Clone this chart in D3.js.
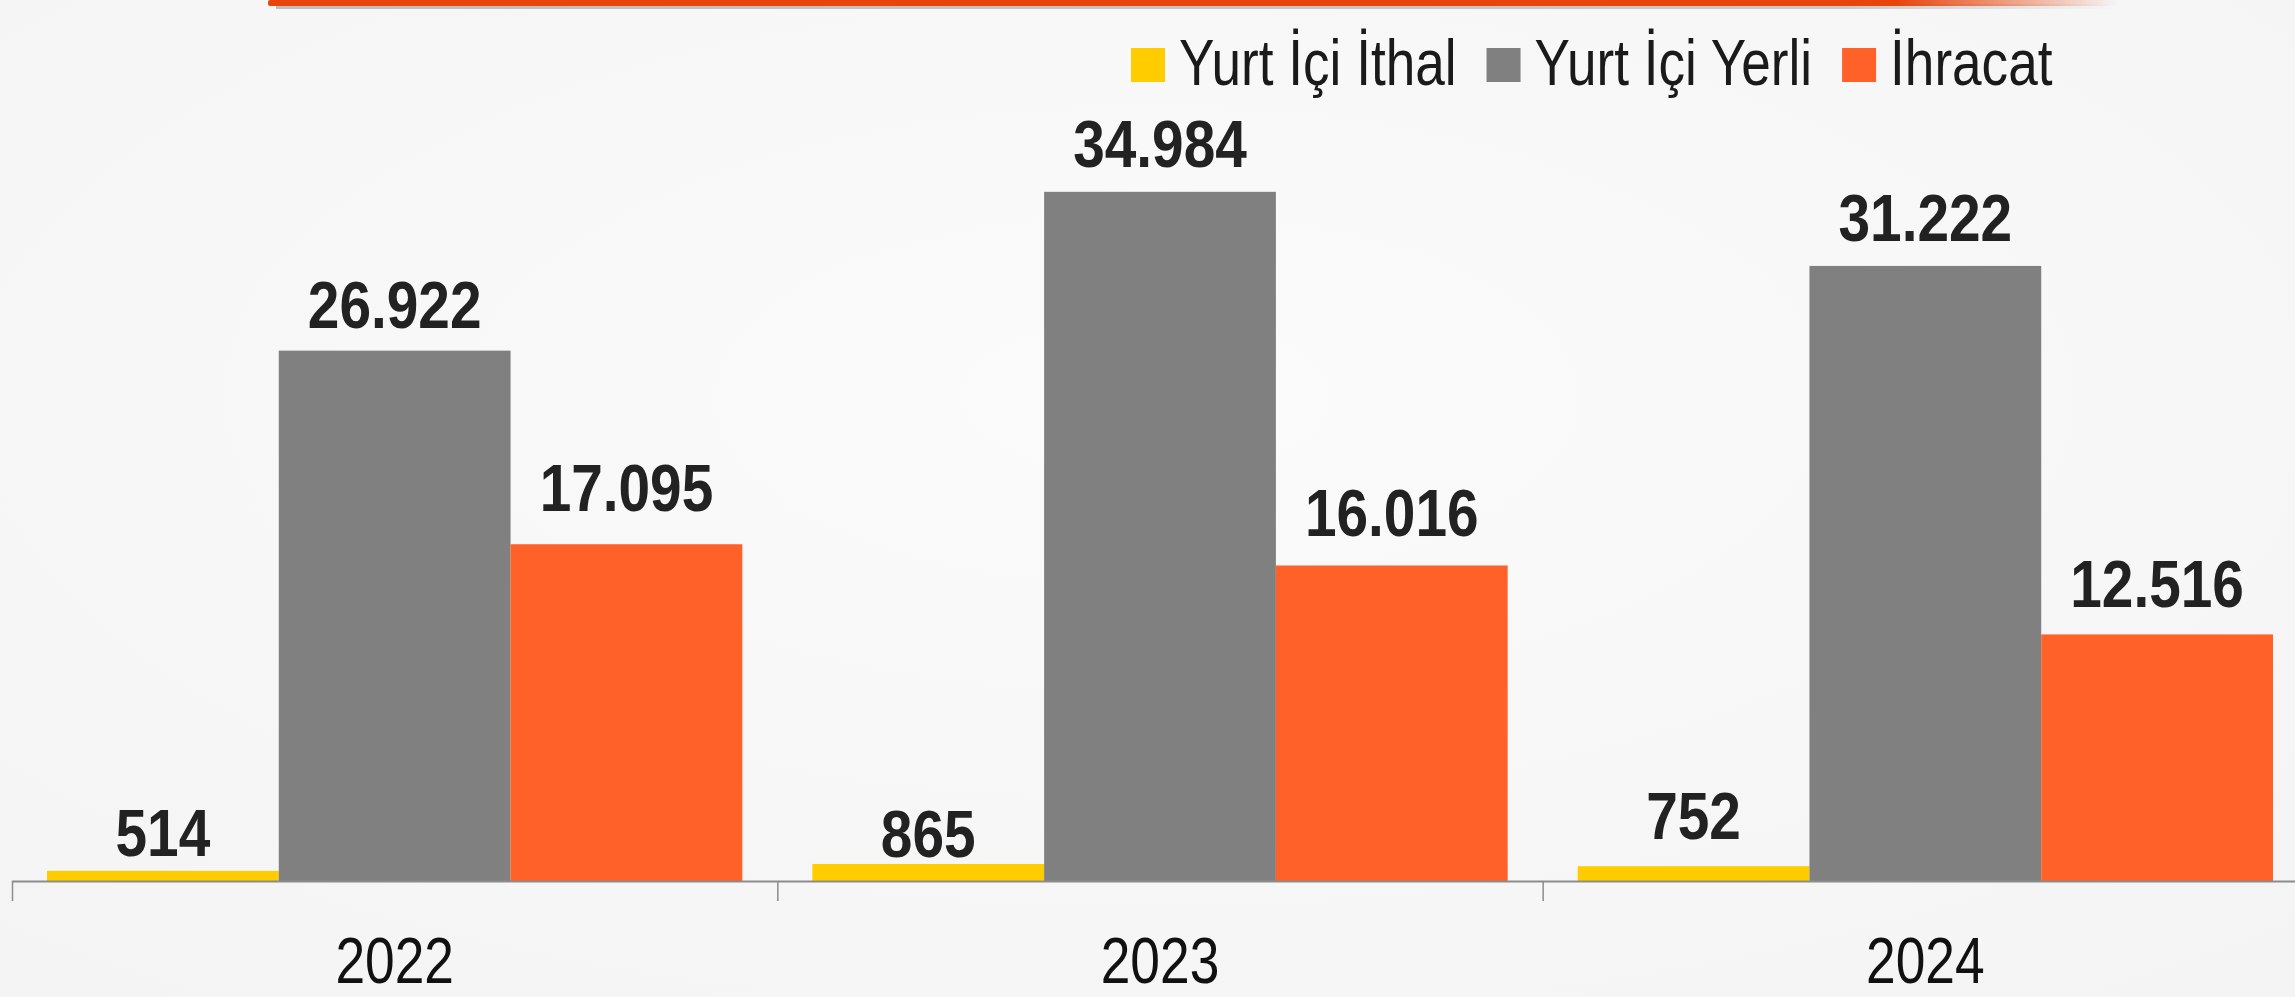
<!DOCTYPE html>
<html>
<head>
<meta charset="utf-8">
<script src="https://cdn.jsdelivr.net/npm/d3@7"></script>
<style>
  html, body { margin: 0; padding: 0; background: #f8f8f8; overflow: hidden; }
  svg { display: block; }
  .narrow { font-family: "Liberation Sans", Arial, sans-serif; }
</style>
</head>
<body>
<svg id="chart" width="2295" height="997"></svg>
<script>
// Grouped bar chart: Yurt İçi İthal / Yurt İçi Yerli / İhracat by year.

const years = ["2022", "2023", "2024"];
const seriesNames = ["Yurt İçi İthal", "Yurt İçi Yerli", "İhracat"];
const ithal = [514, 865, 752];
const yerli = [26922, 34984, 31222];
const ihracat = [17095, 16016, 12516];

const seriesValues = [ithal, yerli, ihracat];
const colors = ["#ffcc00", "#808080", "#ff6128"];

// label gap above the bar top (the original labels were nudged by hand)
const labelGap = [
  [15, 23, 33],
  [7, 25, 29],
  [27, 25, 27]
];

const W = 2295, H = 997;
const AXIS_Y = 881;

// no narrow face installed: squeeze the glyphs horizontally instead
function squeeze(sel, k) {
  sel.each(function() {
    const len = this.getComputedTextLength();
    this.__w = len * k;
    d3.select(this).attr("textLength", len * k).attr("lengthAdjust", "spacingAndGlyphs");
  });
}

const svg = d3.select("#chart");

// background
const defs = svg.append("defs");
const bg = defs.append("radialGradient").attr("id", "bg").attr("cx", "50%").attr("cy", "40%").attr("r", "75%");
bg.append("stop").attr("offset", "0%").attr("stop-color", "#fbfbfb");
bg.append("stop").attr("offset", "100%").attr("stop-color", "#f4f4f4");
svg.append("rect").attr("width", W).attr("height", H).attr("fill", "url(#bg)");

// top orange rule, fading out on the right
const rule = defs.append("linearGradient").attr("id", "rule").attr("x1", "0").attr("x2", "1");
rule.append("stop").attr("offset", "0%").attr("stop-color", "#e8440c");
rule.append("stop").attr("offset", "88%").attr("stop-color", "#e8440c");
rule.append("stop").attr("offset", "100%").attr("stop-color", "#e8440c").attr("stop-opacity", 0);
const shade = defs.append("linearGradient").attr("id", "shade").attr("x1", "0").attr("x2", "1");
shade.append("stop").attr("offset", "0%").attr("stop-color", "#999").attr("stop-opacity", 0.6);
shade.append("stop").attr("offset", "85%").attr("stop-color", "#999").attr("stop-opacity", 0.5);
shade.append("stop").attr("offset", "100%").attr("stop-color", "#999").attr("stop-opacity", 0);
svg.append("rect").attr("x", 276).attr("y", 4).attr("width", 1840).attr("height", 5).attr("fill", "url(#shade)");
svg.append("rect").attr("x", 268).attr("y", 0).attr("width", 1850).attr("height", 6).attr("rx", 2).attr("fill", "url(#rule)");

// scales
const x0 = d3.scaleBand().domain(years).range([12, 2308]).paddingInner(0).paddingOuter(0);
const x1 = d3.scaleBand().domain(d3.range(seriesNames.length))
  .range([0, x0.bandwidth()]).paddingInner(0).paddingOuter(0.151);
const y = d3.scaleLinear().domain([0, 40000]).range([AXIS_Y, AXIS_Y - 788]);

// bars
const groups = svg.append("g").selectAll("g")
  .data(years)
  .join("g")
  .attr("transform", d => `translate(${x0(d)},0)`);

groups.selectAll("rect")
  .data((d, i) => seriesValues.map((s, k) => ({ k, yi: i, v: s[i] })))
  .join("rect")
  .attr("x", d => x1(d.k))
  .attr("width", x1.bandwidth())
  .attr("y", d => y(d.v))
  .attr("height", d => y(0) - y(d.v))
  .attr("fill", d => colors[d.k]);

// value labels
const fmt = d3.formatLocale({ decimal: ",", thousands: ".", grouping: [3], currency: ["", ""] }).format(",d");
groups.selectAll("text.val")
  .data((d, i) => seriesValues.map((s, k) => ({ k, yi: i, v: s[i] })))
  .join("text")
  .attr("class", "val narrow")
  .attr("x", d => x1(d.k) + x1.bandwidth() / 2)
  .attr("y", d => y(d.v) - labelGap[d.yi][d.k])
  .attr("text-anchor", "middle")
  .attr("font-size", 66)
  .attr("font-weight", "bold")
  .attr("fill", "#222")
  .text(d => fmt(d.v))
  .call(squeeze, 0.86);

// axis
const axis = svg.append("g");
axis.append("line")
  .attr("x1", 12).attr("x2", W)
  .attr("y1", AXIS_Y + 0.5).attr("y2", AXIS_Y + 0.5)
  .attr("stroke", "#8c8c8c").attr("stroke-width", 2);
const tickXs = years.map(d => x0(d)).concat([x0.range()[1]]);
axis.selectAll("line.tick")
  .data(tickXs)
  .join("line")
  .attr("class", "tick")
  .attr("x1", d => d + 0.5).attr("x2", d => d + 0.5)
  .attr("y1", AXIS_Y).attr("y2", AXIS_Y + 20)
  .attr("stroke", "#8c8c8c").attr("stroke-width", 1.5);
axis.selectAll("text")
  .data(years)
  .join("text")
  .attr("class", "narrow")
  .attr("x", d => x0(d) + x0.bandwidth() / 2)
  .attr("y", 983)
  .attr("text-anchor", "middle")
  .attr("font-size", 65)
  .attr("fill", "#111")
  .text(d => d)
  .call(squeeze, 0.82);

// legend
const legend = svg.append("g");
let lx = 1131;
seriesNames.forEach((name, k) => {
  legend.append("rect")
    .attr("x", lx).attr("y", 48)
    .attr("width", 34).attr("height", 34)
    .attr("fill", colors[k]);
  const t = legend.append("text")
    .attr("class", "narrow")
    .attr("x", lx + 48).attr("y", 85)
    .attr("font-size", 64)
    .attr("fill", "#1a1a1a")
    .text(name)
    .call(squeeze, 0.83);
  lx += 48 + t.node().__w + 30;
});
</script>
</body>
</html>
